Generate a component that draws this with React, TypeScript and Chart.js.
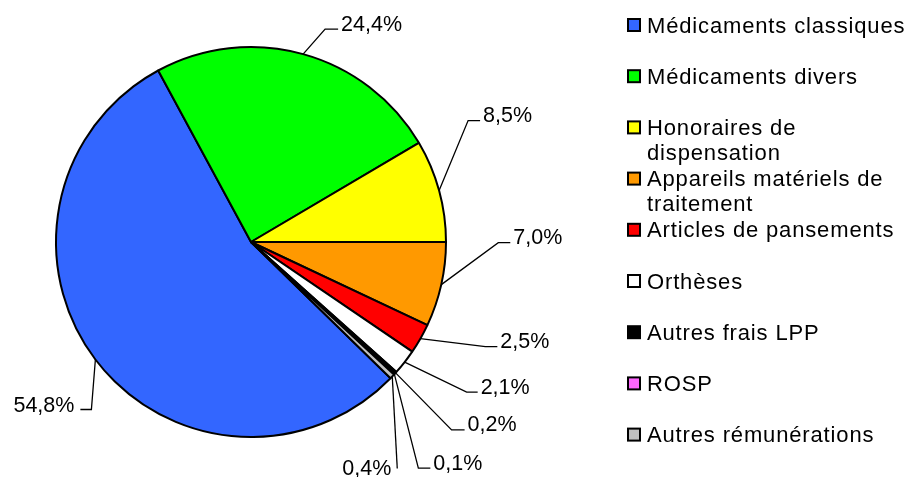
import { useEffect, useRef } from "react";
import { Chart, registerables } from "chart.js";

Chart.register(...registerables);

// ---- data ----
const categories = [
  "Médicaments classiques",
  "Médicaments divers",
  "Honoraires de dispensation",
  "Appareils matériels de traitement",
  "Articles de pansements",
  "Orthèses",
  "Autres frais LPP",
  "ROSP",
  "Autres rémunérations",
];
const legendLines = [
  ["Médicaments classiques"],
  ["Médicaments divers"],
  ["Honoraires de", "dispensation"],
  ["Appareils matériels de", "traitement"],
  ["Articles de pansements"],
  ["Orthèses"],
  ["Autres frais LPP"],
  ["ROSP"],
  ["Autres rémunérations"],
];
const shares = [54.8, 24.4, 8.5, 7.0, 2.5, 2.1, 0.2, 0.1, 0.4];
const sliceColors = [
  "#3366FF",
  "#00FF00",
  "#FFFF00",
  "#FF9900",
  "#FF0000",
  "#FFFFFF",
  "#000000",
  "#FF66FF",
  "#C0C0C0",
];

// ---- label layout (leader elbow offsets from slice mid-arc point) ----
const labelLayout = [
  { dx: -4, dy: 50, h: -11, side: "L", ty: 2 },
  { dx: 22, dy: -25, h: 13, side: "R", ty: 1.5 },
  { dx: 29, dy: -70, h: 12, side: "R", ty: 1.5 },
  { dx: 57, dy: -42, h: 12, side: "R", ty: 1.5 },
  { dx: 65, dy: 8, h: 12, side: "R", ty: 1.5 },
  { dx: 62, dy: 30, h: 11, side: "R", ty: 1.5 },
  { dx: 56, dy: 57, h: 13, side: "R", ty: 1.5 },
  { dx: 24, dy: 94, h: 12, side: "R", ty: 2 },
  { dx: 5, dy: 92, h: 0, side: "L", ty: 7 },
];

const FONT = '"Liberation Sans", Arial, sans-serif';

const fmt = (v: number) => v.toFixed(1).replace(".", ",") + "%";

const overlayPlugin = {
  id: "overlay",
  afterDraw(chart: any) {
    const ctx: CanvasRenderingContext2D = chart.ctx;
    const meta = chart.getDatasetMeta(0);
    ctx.save();
    // leader lines + value labels
    ctx.font = `21.5px ${FONT}`;
    ctx.fillStyle = "#000";
    ctx.strokeStyle = "#000";
    ctx.lineWidth = 1.3;
    ctx.textBaseline = "alphabetic";
    meta.data.forEach((arc: any, i: number) => {
      const p = arc.getProps(["x", "y", "startAngle", "endAngle", "outerRadius"], true);
      const mid = (p.startAngle + p.endAngle) / 2;
      const px = p.x + Math.cos(mid) * p.outerRadius;
      const py = p.y + Math.sin(mid) * p.outerRadius;
      const L = labelLayout[i];
      const ex = px + L.dx;
      const ey = py + L.dy;
      const hx = ex + L.h;
      ctx.beginPath();
      ctx.moveTo(px, py);
      ctx.lineTo(ex, ey);
      ctx.lineTo(hx, ey);
      ctx.stroke();
      if (L.side === "R") {
        ctx.textAlign = "left";
        ctx.fillText(fmt(shares[i]), hx + 3, ey + L.ty);
      } else {
        ctx.textAlign = "right";
        ctx.fillText(fmt(shares[i]), hx - 6, ey + L.ty);
      }
    });

    // legend
    ctx.font = `22px ${FONT}`;
    (ctx as any).letterSpacing = "0.85px";
    ctx.textAlign = "left";
    const x0 = 628;
    legendLines.forEach((lines, i) => {
      const cy = 25 + i * 51.2;
      ctx.fillStyle = sliceColors[i];
      ctx.fillRect(x0, cy - 6, 12, 12);
      ctx.lineWidth = 2;
      ctx.strokeStyle = "#000";
      ctx.strokeRect(x0, cy - 6, 12, 12);
      ctx.fillStyle = "#000";
      lines.forEach((t, j) => {
        ctx.fillText(t, 647, cy + 7.5 + j * 25);
      });
    });
    ctx.restore();
  },
};

export default function App() {
  const ref = useRef<HTMLCanvasElement>(null);
  useEffect(() => {
    if (!ref.current) return;
    const chart = new Chart(ref.current, {
      type: "pie",
      data: {
        labels: categories,
        datasets: [
          {
            data: shares,
            backgroundColor: sliceColors,
            borderColor: "#000000",
            borderWidth: 2,
            hoverOffset: 0,
          },
        ],
      },
      options: {
        responsive: false,
        animation: false,
        rotation: 134.3,
        layout: { padding: { left: 55, top: 46, right: 463, bottom: 39 } },
        plugins: {
          legend: { display: false },
          tooltip: { enabled: false },
          title: { display: false },
        },
        events: [],
      },
      plugins: [overlayPlugin],
    });
    return () => chart.destroy();
  }, []);
  return (
    <div style={{ position: "absolute", left: 0, top: 0, width: 910, height: 477, background: "#fff" }}>
      <canvas ref={ref} width={910} height={477} style={{ display: "block" }} />
    </div>
  );
}
